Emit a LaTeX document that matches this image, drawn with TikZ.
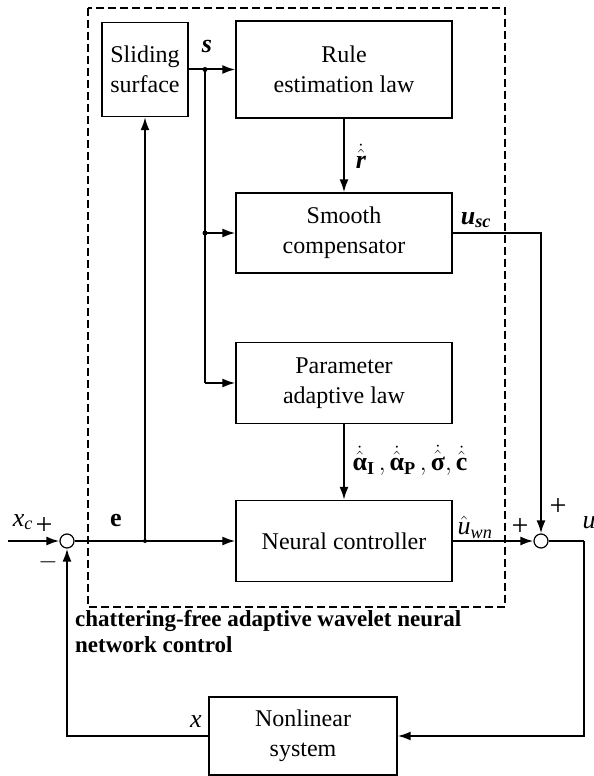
\documentclass[tikz,border=0pt]{standalone}
\usepackage{amsmath}
\usepackage{fontspec}
\setmainfont{Liberation Serif}
\usetikzlibrary{positioning,arrows.meta,calc}

\begin{document}
\begin{tikzpicture}[
  x=1pt, y=-1pt,
  font=\fontsize{24}{30}\selectfont,
  blk/.style  ={draw, line width=1.3pt, align=center, inner sep=0pt},
  sumc/.style ={draw, circle, line width=1.2pt, minimum size=14pt, inner sep=0pt, fill=white},
  sig/.style  ={-{Latex[length=13pt, width=9pt]}, line width=2pt},
  wire/.style ={line width=1.2pt},
  dashbox/.style={dashed, dash pattern=on 8pt off 4pt, line width=2pt},
  lbl/.style  ={inner sep=1pt, font=\fontsize{26}{30}\selectfont},
  sgn/.style  ={inner sep=1pt, font=\fontsize{30}{30}\selectfont},
  jdot/.style ={circle, fill, inner sep=0pt, minimum size=5pt},
]
\useasboundingbox (0,0) rectangle (594,776);

% ==================== Blocks ====================
\node[blk, minimum width=86pt,  minimum height=94pt] (slide)  at (145,69.5) {Sliding\\surface};
\node[blk, minimum width=216pt, minimum height=97pt] (rule)   at (344,69.5) {Rule\\estimation law};
\node[blk, minimum width=216pt, minimum height=80pt] (smooth) at (344,233)  {Smooth\\compensator};
\node[blk, minimum width=216pt, minimum height=81pt] (param)  at (344,383)  {Parameter\\adaptive law};
\node[blk, minimum width=216pt, minimum height=81pt] (neural) at (344,541)  {Neural controller};
\node[blk, minimum width=188pt, minimum height=78pt] (plant)  at (303,736)  {Nonlinear\\system};

% summing points
\node[sumc] (sum1) at (67,541)  {};
\node[sumc] (sum2) at (541,541) {};

% helper points
\coordinate (xin)  at (8,541);
\coordinate (ej)   at (145,541);
\coordinate (sj)   at (205,69.5);
\coordinate (uout) at (584,541);

% dashed controller frame
\draw[dashbox] (88,8) rectangle (505,607);
\node[anchor=north west, align=left, inner sep=0pt, font=\fontsize{23}{26}\selectfont\bfseries] (cap) at (75,610)
  {chattering-free adaptive wavelet neural\\network control};

% ==================== Arrows ====================
% s branch
\draw[sig] (slide.east) -- (rule.west);
\draw[wire, line width=1.5pt] (sj) -- (sj |- param.west);
\draw[sig] (sj |- smooth.west) -- (smooth.west);
\draw[sig] (sj |- param.west) -- (param.west);
\node[jdot] at (sj) {};
\node[jdot] at (sj |- smooth.west) {};

% estimation laws down
\draw[sig] (rule.south) -- (smooth.north);
\draw[sig] (param.south) -- (neural.north);

% error path
\draw[sig] (xin) -- (sum1.west);
\draw[sig] (sum1.east) -- (neural.west);
\draw[sig] (ej) -- (slide.south);
\node[jdot, minimum size=4pt] at (ej) {};

% controller outputs into sum
\draw[sig] (neural.east) -- (sum2.west);
\draw[wire] (smooth.east) -| ($(sum2.north)+(0,-75)$);
\draw[sig] ($(sum2.north)+(0,-75)$) -- (sum2.north);

% plant loop
\draw[wire] (sum2.east) -- (uout);
\draw[sig] (uout) |- (plant.east);
\draw[wire] (plant.west) -| (67,560);
\draw[sig] (67,560) -- (sum1.south);

% ==================== Labels ====================
\node[lbl] (ls)   at (207,47)  {\textbf{\textit{s}}};
\node[lbl] (lr)   at (361,156) {$\dot{\hat{\textbf{\textit{r}}}}$};
\node[lbl] (lusc) at (476,220) {\textbf{\textit{u}}$_{\textbf{\textit{sc}}}$};
\node[lbl] (lal)  at (410,460) {$\dot{\hat{\textbf{α}}}_{\textbf{I}}\,,\dot{\hat{\textbf{α}}}_{\textbf{P}}\,,\dot{\hat{\textbf{σ}}},\dot{\hat{\textbf{c}}}$};
\node[lbl] (luwn) at (475,527) {$\hat{\textit{u}}_{\textit{wn}}$};
\node[lbl] (lxc)  at (23,522)  {\textit{x}$_{\textit{c}}$};
\node[sgn] (lp1)  at (44,526)  {+};
\node[sgn] (lm1)  at (48,562)  {$-$};
\node[lbl] (le)   at (116,521) {\textbf{e}};
\node[sgn] (lp2)  at (520,527) {+};
\node[sgn] (lp3)  at (558,507) {+};
\node[lbl] (lu)   at (589,523) {\textit{u}};
\node[lbl] (lx)   at (196,722) {\textit{x}};

\end{tikzpicture}
\end{document}
